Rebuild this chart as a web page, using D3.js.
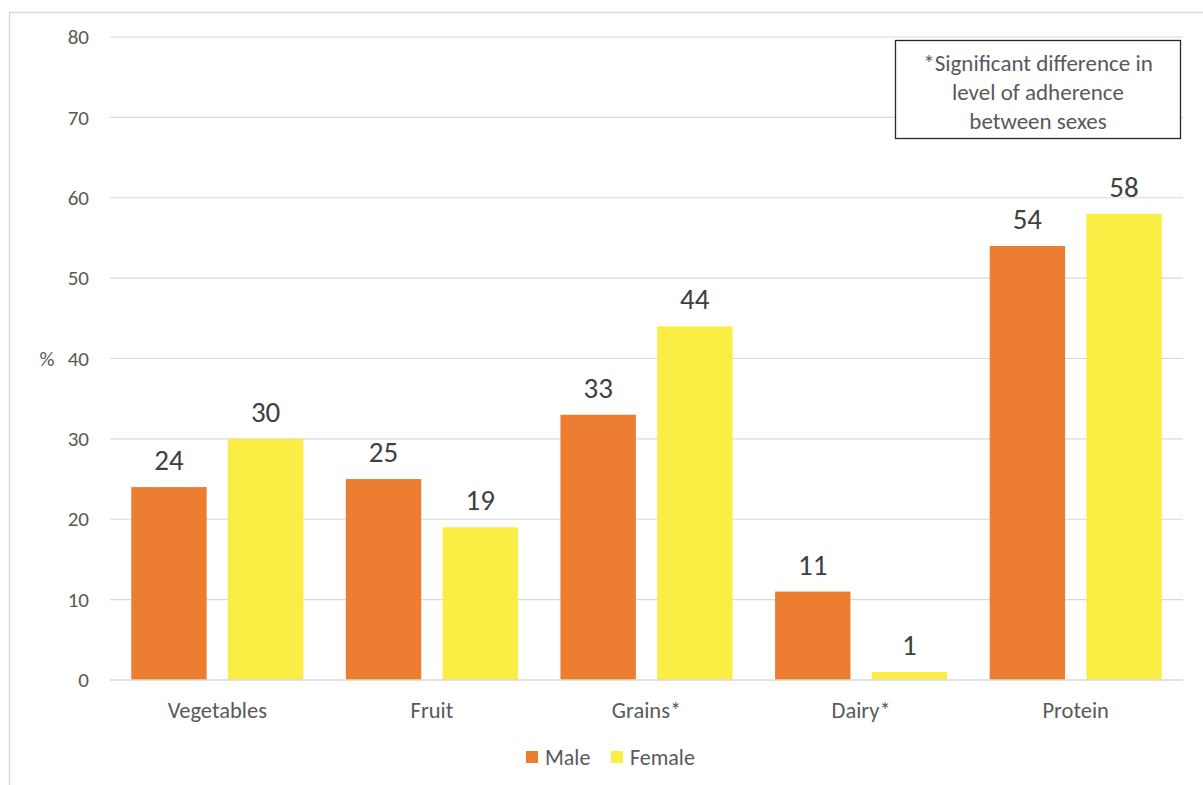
<!DOCTYPE html>
<html>
<head>
<meta charset="utf-8">
<script src="https://cdn.jsdelivr.net/npm/d3@7"></script>
<style>
  html, body { margin: 0; padding: 0; background: #fff; }
  svg { display: block; font-family: Carlito, Lato, "Open Sans", sans-serif; }
</style>
</head>
<body>
<svg id="chart" width="1203" height="785"></svg>
<script>
// Food groups and share (%) meeting recommendations, by sex
const categories = ["Vegetables", "Fruit", "Grains*", "Dairy*", "Protein"];
const seriesNames = ["Male", "Female"];
const maleValues = [24, 25, 33, 11, 54];
const femaleValues = [30, 19, 44, 1, 58];
const yTicks = [0, 10, 20, 30, 40, 50, 60, 70, 80];
const noteLines = ["*Significant difference in", "level of adherence", "between sexes"];

const colors = { Male: "#ED7D31", Female: "#FAEE45" };
const FONT = "Carlito, Lato, 'Open Sans', sans-serif";

const svg = d3.select("#chart");
const W = 1203, H = 785;

// outer frame
svg.append("rect")
  .attr("x", 9.5).attr("y", 12.5)
  .attr("width", W).attr("height", H)
  .attr("fill", "#fff").attr("stroke", "#d9d9d9").attr("stroke-width", 1.5);

const plot = { left: 110, right: 1183, top: 37, bottom: 680 };

const x = d3.scaleBand().domain(categories).range([plot.left, plot.right]).paddingInner(0).paddingOuter(0);
const xs = d3.scaleBand().domain(seriesNames).range([0, x.bandwidth()]).paddingInner(0.22).paddingOuter(0.22);
const y = d3.scaleLinear().domain([0, 80]).range([plot.bottom, plot.top]);

// gridlines
svg.append("g")
  .selectAll("line")
  .data(yTicks.filter(t => t > 0))
  .join("line")
  .attr("x1", plot.left).attr("x2", plot.right)
  .attr("y1", d => y(d)).attr("y2", d => y(d))
  .attr("stroke", "#d9d9d9").attr("stroke-width", 1.2);

// y axis labels
const yAxis = d3.axisLeft(y).tickValues(yTicks).tickSize(0).tickPadding(21);
const gy = svg.append("g").attr("transform", `translate(${plot.left},0)`).call(yAxis);
gy.select(".domain").remove();
gy.selectAll("text")
  .attr("font-size", 21).attr("fill", "#595959")
  .attr("font-family", FONT);

svg.append("text")
  .attr("x", 47).attr("y", y(40)).attr("dy", "0.35em")
  .attr("text-anchor", "middle")
  .attr("font-size", 21).attr("fill", "#595959")
  .text("%");

// bars
const rows = categories.map((c, i) => ({ cat: c, Male: maleValues[i], Female: femaleValues[i] }));
const groups = svg.append("g").selectAll("g")
  .data(rows).join("g")
  .attr("transform", d => `translate(${x(d.cat)},0)`);

const bars = groups.selectAll("g.bar")
  .data(d => seriesNames.map(s => ({ s, v: d[s] })))
  .join("g").attr("class", "bar");

bars.append("rect")
  .attr("x", d => xs(d.s))
  .attr("width", xs.bandwidth())
  .attr("y", d => y(d.v))
  .attr("height", d => y(0) - y(d.v))
  .attr("fill", d => colors[d.s]);

bars.append("text")
  .attr("x", d => xs(d.s) + xs.bandwidth() / 2)
  .attr("y", d => y(d.v) - 17)
  .attr("text-anchor", "middle")
  .attr("font-size", 29).attr("fill", "#404040")
  .text(d => d.v);

// baseline
svg.append("line")
  .attr("x1", plot.left).attr("x2", plot.right)
  .attr("y1", y(0)).attr("y2", y(0))
  .attr("stroke", "#d9d9d9").attr("stroke-width", 1.5);

// x axis labels
const xAxis = d3.axisBottom(x).tickSize(0).tickPadding(22);
const gx = svg.append("g").attr("transform", `translate(0,${plot.bottom})`).call(xAxis);
gx.select(".domain").remove();
gx.selectAll("text")
  .attr("font-size", 22.5).attr("fill", "#595959")
  .attr("font-family", FONT);

// note box
const note = svg.append("g");
note.append("rect")
  .attr("x", 895.5).attr("y", 40.5).attr("width", 285).attr("height", 98)
  .attr("fill", "#fff").attr("stroke", "#262626").attr("stroke-width", 1.3);
note.selectAll("text")
  .data(noteLines).join("text")
  .attr("x", 1038).attr("y", (d, i) => 63 + i * 29)
  .attr("dy", "0.35em")
  .attr("text-anchor", "middle")
  .attr("font-size", 23).attr("fill", "#595959")
  .text(d => d);

// legend
const legend = svg.append("g");
const legendItems = [{ s: "Male", x: 526 }, { s: "Female", x: 611 }];
legendItems.forEach(it => {
  legend.append("rect")
    .attr("x", it.x).attr("y", 751).attr("width", 12).attr("height", 12)
    .attr("fill", colors[it.s]);
  legend.append("text")
    .attr("x", it.x + 19).attr("y", 757).attr("dy", "0.35em")
    .attr("font-size", 22).attr("fill", "#595959")
    .text(it.s);
});
</script>
</body>
</html>
